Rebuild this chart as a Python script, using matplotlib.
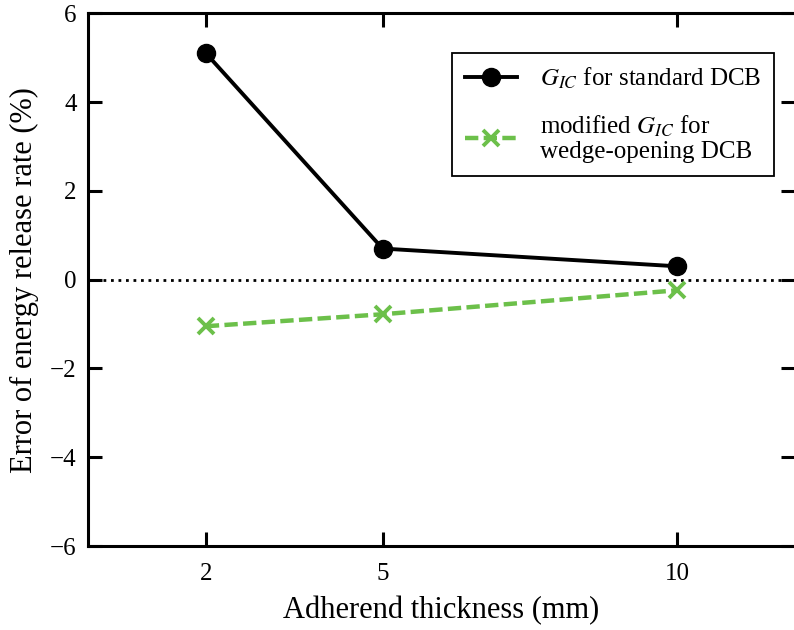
import matplotlib
matplotlib.use('Agg')
import matplotlib.pyplot as plt

thickness = [2, 5, 10]
err_standard = [5.1, 0.7, 0.3]
err_wedge = [-1.05, -0.78, -0.24]
x_ticks = [2, 5, 10]
y_ticks = [-6, -4, -2, 0, 2, 4, 6]

plt.rcParams['font.family'] = ['Liberation Serif', 'DejaVu Serif']
plt.rcParams['mathtext.fontset'] = 'stix'

fig = plt.figure(figsize=(7.94, 6.30), dpi=100)
ax = fig.add_axes([0.1108, 0.1333, 0.8905, 0.8457])

ax.axhline(0, color='black', linestyle=(0, (1, 1.7)), linewidth=2.0, zorder=1)
ax.plot(thickness, err_standard, color='black', linewidth=2.8, marker='o',
        markersize=13, label=r'$G_{IC}$ for standard DCB', zorder=3)
ax.plot(thickness, err_wedge, color='#6cc04a', linewidth=3.2, linestyle=(0, (3, 1.2)),
        marker='x', markersize=12, markeredgewidth=2.8,
        label='modified $G_{IC}$ for\nwedge-opening DCB', zorder=2)

ax.set_xlim(0, 12)
ax.set_ylim(-6, 6)
ax.set_xticks(x_ticks)
ax.set_yticks(y_ticks)
ax.tick_params(axis='both', direction='in', length=10, width=2.2, labelsize=18,
               top=True, right=True)
ax.tick_params(axis='x', pad=12)
ax.tick_params(axis='y', pad=8)
for s in ax.spines.values():
    s.set_linewidth(2.2)

ax.set_xlabel('Adherend thickness (mm)', fontsize=22, labelpad=8)
ax.set_ylabel('Error of energy release rate (%)', fontsize=22, labelpad=8)

leg = ax.legend(loc='upper right', bbox_to_anchor=(0.970, 0.925), fontsize=18,
                frameon=True, fancybox=False, edgecolor='black', framealpha=1,
                handlelength=2.1, handletextpad=0.9, borderpad=0.5,
                labelspacing=0.9, borderaxespad=0)
leg.get_frame().set_linewidth(1.3)
for t in leg.get_texts():
    t.set_linespacing(1.15)

fig.savefig('out.png', dpi=100)
